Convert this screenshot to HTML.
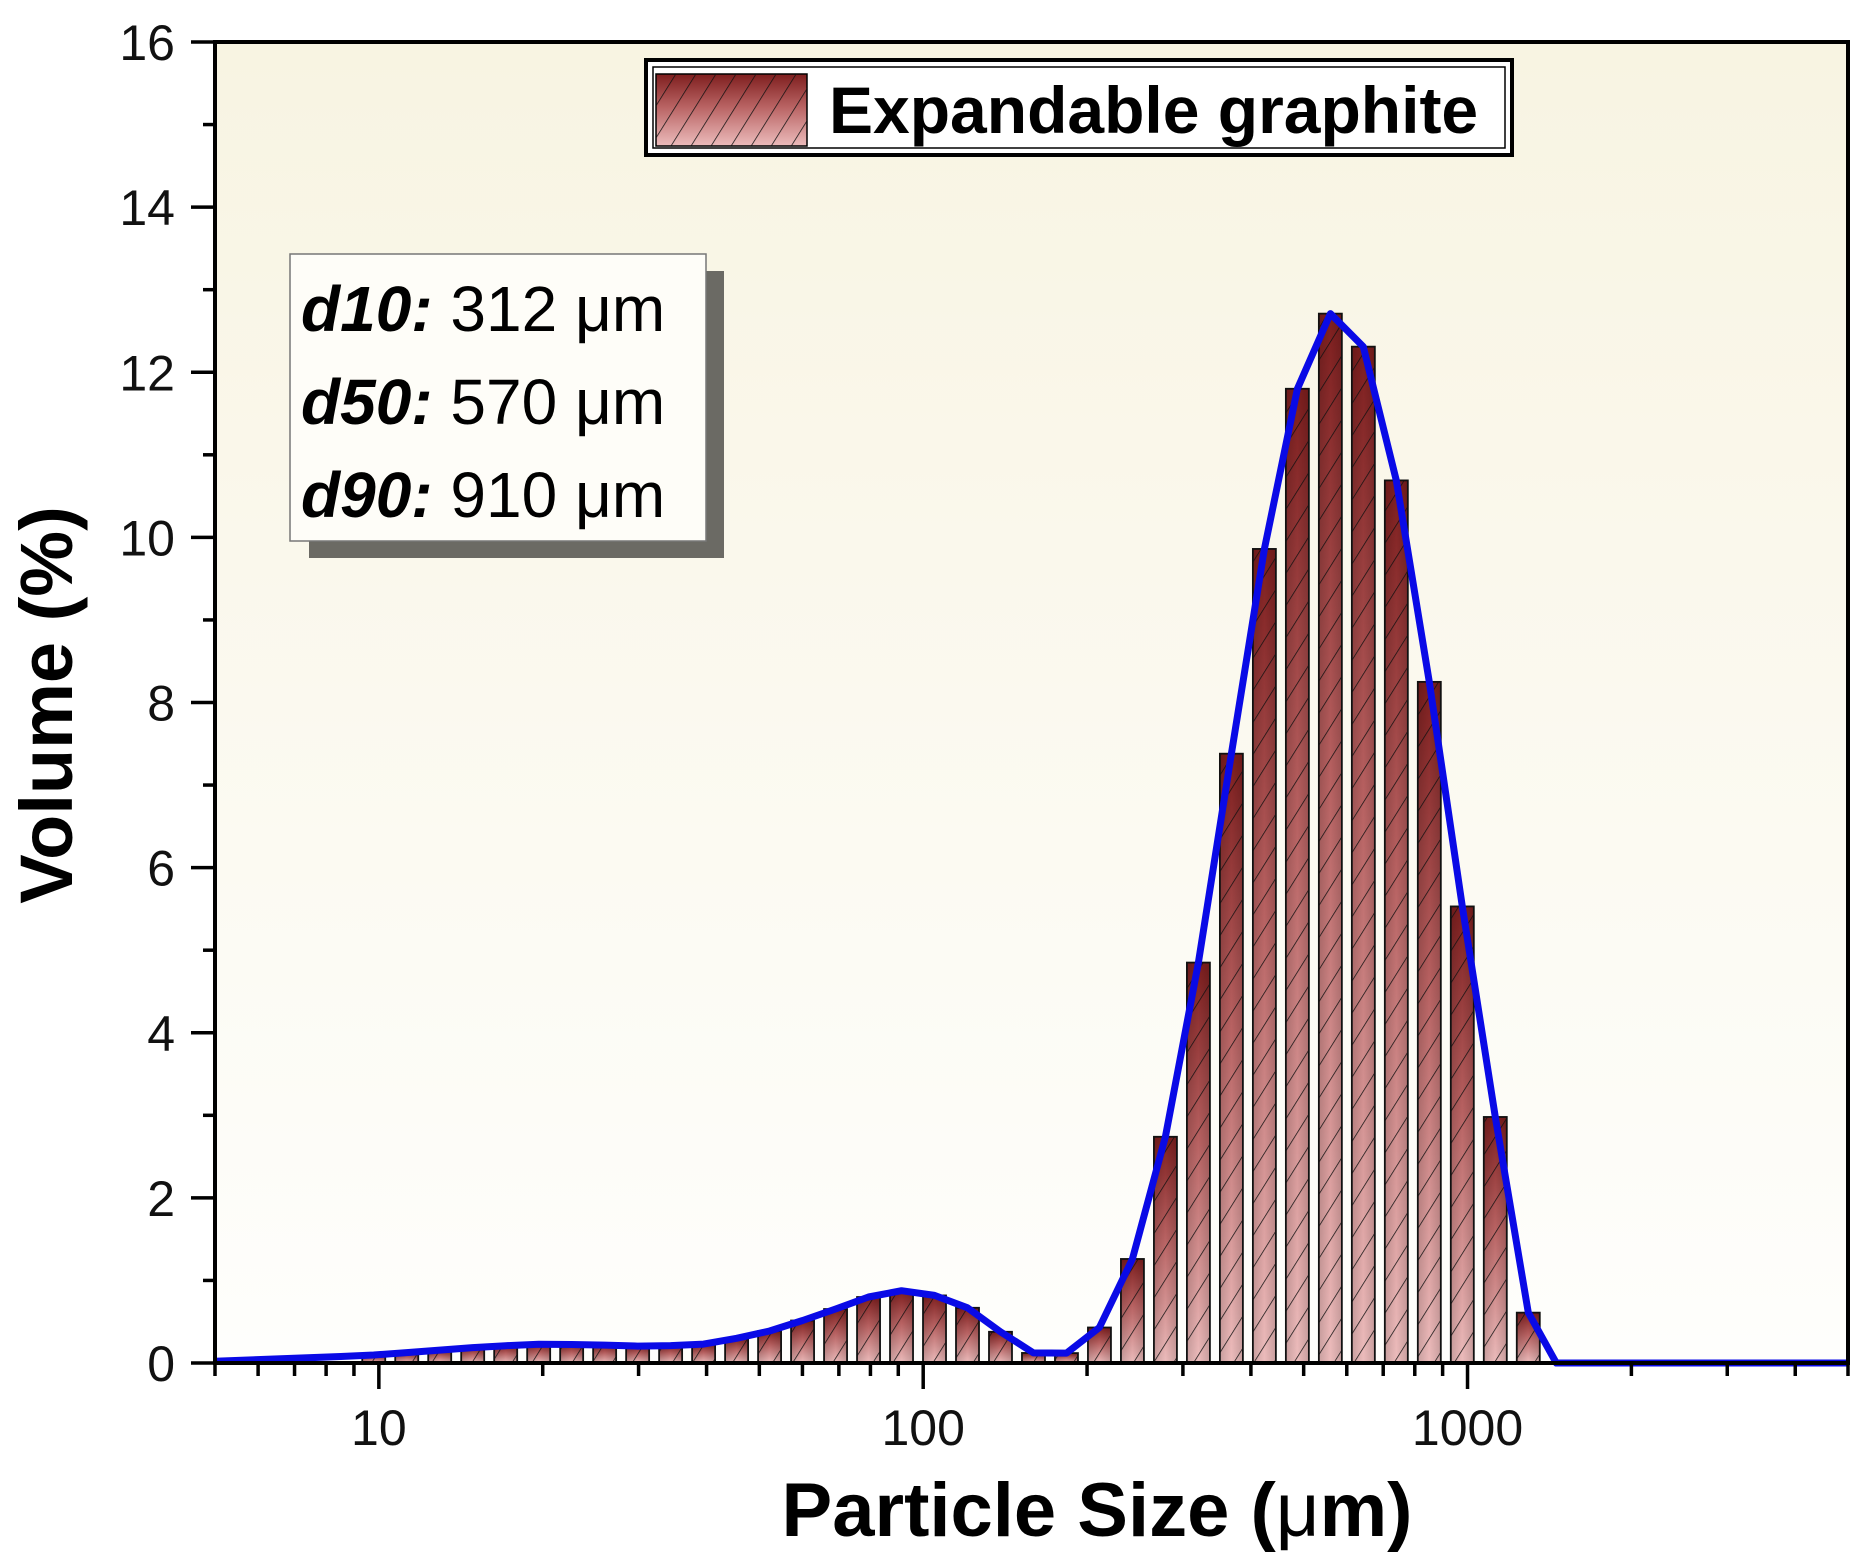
<!DOCTYPE html>
<html><head><meta charset="utf-8"><style>
html,body{margin:0;padding:0;background:#fff;}
svg{display:block;font-family:"Liberation Sans",Arial,sans-serif;}
</style></head><body>
<svg id="s" width="1866" height="1558" viewBox="0 0 1866 1558" xmlns="http://www.w3.org/2000/svg">
<defs>
<linearGradient id="bg" x1="0" y1="0" x2="0" y2="1">
<stop offset="0" stop-color="#f8f4e2"/><stop offset="1" stop-color="#fefefc"/>
</linearGradient>
<linearGradient id="bar" x1="0" y1="0" x2="0" y2="1">
<stop offset="0" stop-color="#7e1e1e"/><stop offset="0.45" stop-color="#b86262"/><stop offset="1" stop-color="#ecbcbc"/>
</linearGradient>
<linearGradient id="barx" x1="0" y1="0" x2="1" y2="0">
<stop offset="0" stop-color="#000" stop-opacity="0.15"/><stop offset="0.5" stop-color="#000" stop-opacity="0"/><stop offset="1" stop-color="#000" stop-opacity="0.15"/>
</linearGradient>
<pattern id="hatch" patternUnits="userSpaceOnUse" width="17" height="17" patternTransform="rotate(32)">
<line x1="0" y1="0" x2="0" y2="17" stroke="#111" stroke-width="1.5"/>
</pattern>
</defs>
<rect x="215" y="42" width="1633" height="1321" fill="url(#bg)"/>
<g id="bars"></g>
<polyline id="line" fill="none" stroke="#0a0ae6" stroke-width="7" stroke-linejoin="round"/>
<g id="ticks" stroke="#000" stroke-width="3.5"></g>
<rect x="215" y="42" width="1633" height="1321" fill="none" stroke="#000" stroke-width="4"/>
<g id="labels" font-size="50" fill="#111"></g>
<!-- legend -->
<rect x="646" y="60" width="866" height="95" fill="#fff" stroke="#000" stroke-width="4"/>
<rect x="653" y="67" width="852" height="81" fill="none" stroke="#000" stroke-width="1.5"/>
<rect x="656" y="74" width="151" height="72" fill="url(#bar)" stroke="#000" stroke-width="1.5"/>
<rect x="656" y="74" width="151" height="72" fill="url(#hatch)"/>
<text x="829" y="133" font-size="66" font-weight="bold" fill="#000">Expandable graphite</text>
<!-- stats box -->
<rect x="309" y="271" width="415" height="287" fill="#6b6a64"/>
<rect x="290" y="254" width="416" height="287" fill="#fefdf8" stroke="#777" stroke-width="1.5"/>
<g font-size="64" fill="#000">
<text x="301" y="331"><tspan font-weight="bold" font-style="italic">d10:</tspan> 312 μm</text>
<text x="301" y="424"><tspan font-weight="bold" font-style="italic">d50:</tspan> 570 μm</text>
<text x="301" y="517"><tspan font-weight="bold" font-style="italic">d90:</tspan> 910 μm</text>
</g>
<text x="1097" y="1536" font-size="76" font-weight="bold" text-anchor="middle" fill="#000">Particle Size (<tspan font-weight="normal">μ</tspan>m)</text>
<text transform="translate(72,705) rotate(-90)" font-size="74" font-weight="bold" text-anchor="middle" fill="#000">Volume (%)</text>
</svg>
<script>
var L=215,R=1848,T=42,B=1363,dec=(R-L)/3;
function X(v){return L+(Math.log10(v)-Math.log10(5))*dec;}
function Xl(l){return L+(l-Math.log10(5))*dec;}
function Y(v){return B-v*(B-T)/16;}
var ns="http://www.w3.org/2000/svg";
function el(t,a,p){var e=document.createElementNS(ns,t);for(var k in a)e.setAttribute(k,a[k]);if(p)p.appendChild(e);return e;}
var big=[0.43,1.26,2.74,4.85,7.38,9.86,11.8,12.71,12.31,10.69,8.25,5.53,2.98,0.61];
var step=0.0606,peakL=2.748;
var pts=[[0.7,0.02],[0.8,0.04],[0.9,0.07],[1.0,0.1],[1.1,0.15],[1.2,0.2],[1.3,0.23],[1.4,0.22],[1.5,0.2],[1.6,0.23],[1.7,0.35],[1.8,0.56],[1.9,0.8],[1.95,0.88],[2.0,0.86],[2.07,0.72],[2.13,0.45],[2.18,0.15],[2.22,0.1],[2.26,0.12]];
function interp(l){if(l<=pts[0][0])return pts[0][1];for(var i=1;i<pts.length;i++){if(l<=pts[i][0]){var a=pts[i-1],b=pts[i];return a[1]+(b[1]-a[1])*(l-a[0])/(b[0]-a[0]);}}return pts[pts.length-1][1];}
var bars=document.getElementById('bars');
var linePts=[[L,Y(0.02)]];
var bins=[];
for(var k=-30;k<=6;k++){var l=peakL+step*k;var v;
 if(k>=-7){v=big[k+7];}else{v=interp(l);}
 if(l<0.75)continue;bins.push([l,v]);}
bins.forEach(function(b){var cx=Xl(b[0]),w=23,y=Y(b[1]),h=B-y;
 if(b[0]>0.95){
 el('rect',{x:cx-w/2,y:y,width:w,height:h,fill:'url(#bar)'},bars);
 el('rect',{x:cx-w/2,y:y,width:w,height:h,fill:'url(#barx)'},bars);
 el('rect',{x:cx-w/2,y:y,width:w,height:h,fill:'url(#hatch)',stroke:'#111','stroke-width':1.8},bars);}
 linePts.push([cx,y]);});
linePts.push([Xl(3.163),Y(0)]);linePts.push([R,Y(0)]);
document.getElementById('line').setAttribute('points',linePts.map(function(p){return p[0].toFixed(1)+','+p[1].toFixed(1)}).join(' '));
var tk=document.getElementById('ticks'),lb=document.getElementById('labels');
for(var v=0;v<=16;v++){var y=Y(v),len=(v%2==0)?24:12;el('line',{x1:L-len,y1:y,x2:L,y2:y},tk);
 if(v%2==0){var t=el('text',{x:L-40,y:y+18,'text-anchor':'end'},lb);t.textContent=v;}}
for(var d=1;d<=1000;d*=10){for(var m=1;m<=9;m++){var val=d*m;if(val<5||val>5000)continue;var x=X(val),len=(m==1)?26:13;
 el('line',{x1:x,y1:B,x2:x,y2:B+len},tk);
 if(m==1){var t=el('text',{x:x,y:B+82,'text-anchor':'middle'},lb);t.textContent=val;}}}
</script>
</body></html>
